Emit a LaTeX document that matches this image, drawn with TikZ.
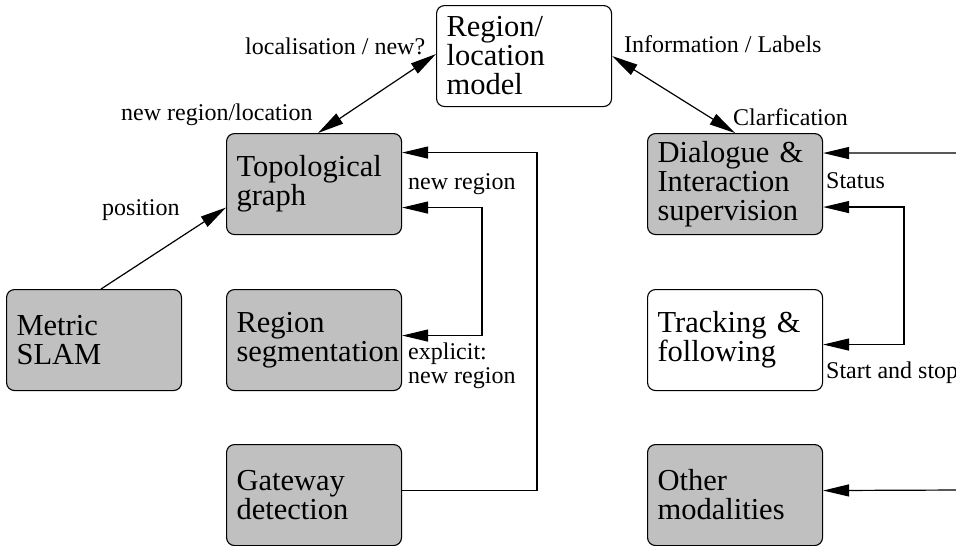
\documentclass[tikz,border=0pt]{standalone}
\usepackage{fontspec}
\setmainfont{Liberation Serif}
\usetikzlibrary{arrows.meta}
\definecolor{modgray}{RGB}{192,192,192}
\tikzset{
  module/.style={draw=black, line width=1.1pt, rounded corners=8pt,
    minimum height=101pt, text width=155pt, inner xsep=10pt, inner ysep=0pt,
    align=left, anchor=north west,
    font=\fontsize{30.5}{29}\selectfont},
  active/.style={module, fill=modgray},
  passive/.style={module, fill=white},
  note/.style={inner sep=0pt, anchor=base west, align=left,
    font=\fontsize{24}{24}\selectfont},
  link/.style={line width=1.2pt, -{Triangle[length=26pt,width=12pt]}},
  dlink/.style={line width=1.2pt, {Triangle[length=26pt,width=12pt]}-{Triangle[length=26pt,width=12pt]}}
}
\begin{document}
\begin{tikzpicture}[x=1pt, y=-1pt]
\useasboundingbox (0,0) rectangle (956,546);
\clip (0,0) rectangle (956,546);

% modules
\node[passive] (rm)   at (436,5)   {Region/\\location\\model};
\node[active]  (topo) at (226,133) {Topological\\graph};
\node[active]  (slam) at (6,289)   {Metric\\SLAM};
\node[active]  (seg)  at (226,289) {Region\\segmentation};
\node[active]  (gate) at (226,444) {Gateway\\detection};
\node[active]  (dlg)  at (647,133) {Dialogue \&\\Interaction\\supervision};
\node[passive] (trk)  at (647,289) {Tracking \&\\following};
\node[active]  (oth)  at (647,444) {Other\\modalities};

% routing points
\coordinate (busA) at (537,300);
\coordinate (busB) at (482,270);
\coordinate (busC) at (904,275);
\coordinate (inD)  at (962,153);
\coordinate (inO)  at (962,490);

% connectors
\draw[dlink] ([xshift=4pt]topo.north) -- ([yshift=2pt]rm.west);
\draw[dlink] (rm.east) -- (dlg.north);
\draw[link] ([xshift=7pt]slam.north) -- ([yshift=-23.5pt]topo.west);
\draw[link] ([yshift=4.5pt]gate.east) -| (busA) |- ([yshift=31.5pt]topo.east);
\draw[dlink] ([yshift=-23.5pt]topo.east) -| (busB) |- ([yshift=4.5pt]seg.east);
\draw[link] (inD) -- ([yshift=31pt]dlg.east);
\draw[dlink] ([yshift=-23pt]dlg.east) -| (busC) |- ([yshift=-4.5pt]trk.east);
\draw[link] (inO) -- ([yshift=4.5pt]oth.east);

% labels
\node[note] (l1) at (245,54)  {localisation / new?};
\node[note] (l2) at (121,120) {new region/location};
\node[note] (l3) at (624,52)  {Information / Labels};
\node[note] (l4) at (733,125) {Clarfication};
\node[note] (l5) at (102,215) {position};
\node[note] (l6) at (408,189) {new region};
\node[note] (l7) at (408,383) {explicit:\\new region};
\node[note] (l8) at (826,188) {Status};
\node[note] (l9) at (826,378) {Start and stop};
\end{tikzpicture}
\end{document}
